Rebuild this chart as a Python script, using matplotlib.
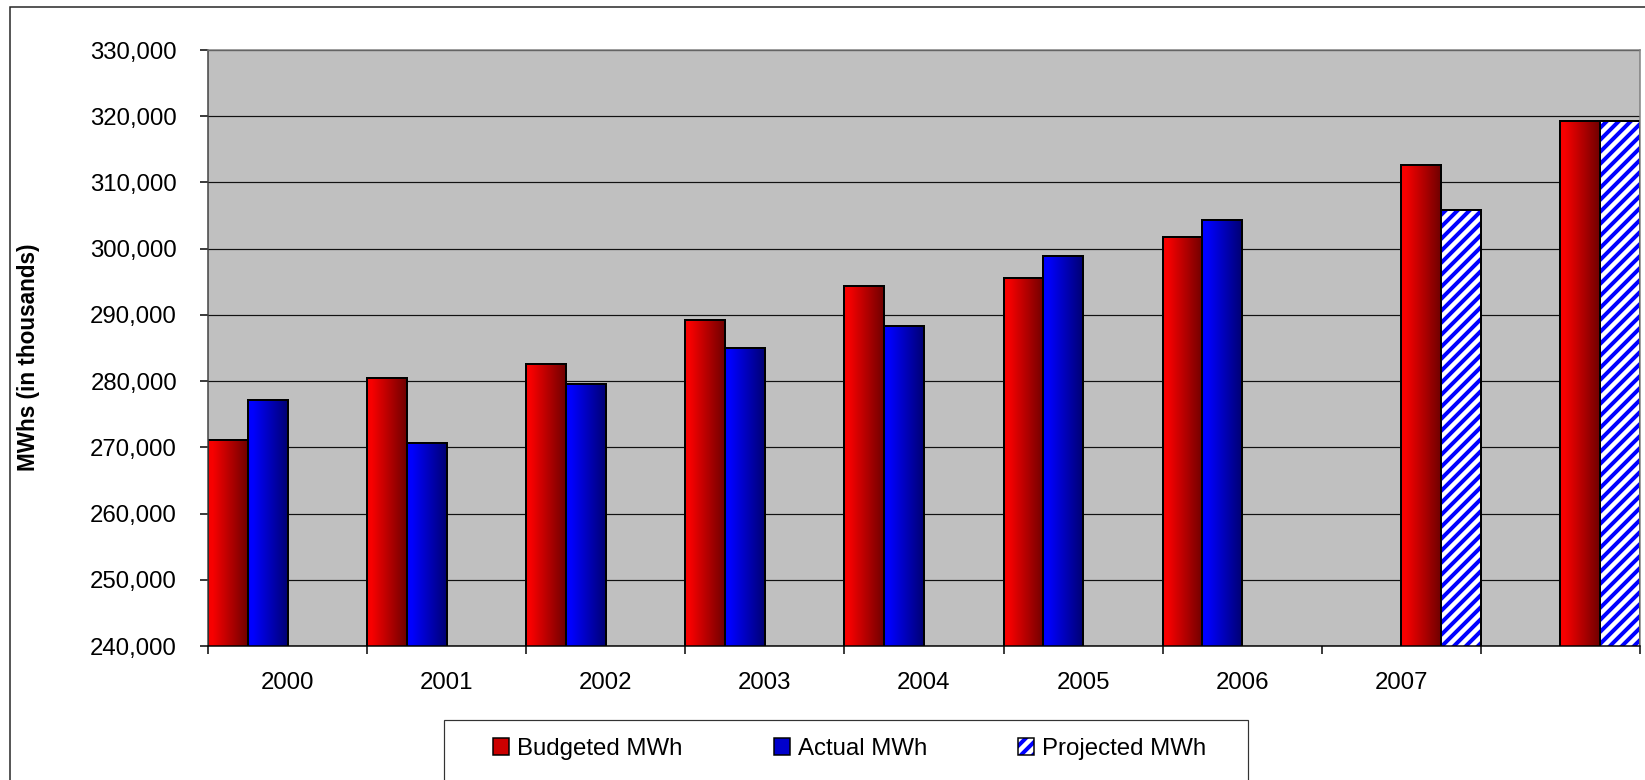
import numpy as np
import matplotlib
matplotlib.use("Agg")
import matplotlib.pyplot as plt
from matplotlib.patches import Patch, Rectangle
from matplotlib.ticker import FuncFormatter, MultipleLocator

nan = np.nan

# Categories (last group is the unlabeled outlook year)
years = ["2000", "2001", "2002", "2003", "2004", "2005", "2006", "2007", ""]

# MWh (in thousands)
budgeted = [271100, 280400, 282600, 289200, 294400, 295500, 301800, nan, nan]
actual = [277200, 270600, 279600, 285000, 288300, 298900, 304300, nan, nan]
budgeted_outlook = [nan] * 7 + [312700, 319300]
projected = [nan] * 7 + [305800, 319300]

series_labels = ["Budgeted MWh", "Actual MWh", "Projected MWh"]

W, H, DPI = 1645, 780, 72
plt.rcParams["font.family"] = ["Liberation Sans", "DejaVu Sans"]
plt.rcParams["hatch.linewidth"] = 4.0

fig = plt.figure(figsize=(W / DPI, H / DPI), dpi=DPI)
fig.patch.set_facecolor("white")
ax = fig.add_axes([208 / W, 1 - 646 / H, (1640 - 208) / W, (646 - 50) / H])
ax.set_facecolor("#C0C0C0")

idx = np.arange(len(years))
bw = 0.25
ax.set_xlim(0, len(years))
ax.set_ylim(240000, 330000)


def gradient(base, dark=0.45, n=256):
    t = np.linspace(0, 1, n)
    f = np.where(t < 0.12, 1.0, 1.0 - (t - 0.12) / 0.88 * (1.0 - dark))
    rgb = np.outer(f, np.array(base))
    return rgb[np.newaxis, :, :]


def shaded_bars(values, slot, base):
    bars = ax.bar(idx + slot * bw, values, width=bw, align="edge",
                  facecolor="none", edgecolor="black", linewidth=2, zorder=2)
    grad = gradient(base)
    ylo = ax.get_ylim()[0]
    for b in bars:
        h = b.get_height()
        if not np.isfinite(h):
            continue
        x, y, w = b.get_x(), b.get_y(), b.get_width()
        ax.imshow(grad, extent=(x, x + w, max(y, ylo), y + h), aspect="auto",
                  origin="lower", interpolation="bilinear", zorder=1)
    return bars


red = (0.97, 0.0, 0.0)
blue = (0.0, 0.0, 1.0)
shaded_bars(budgeted, 0, red)
shaded_bars(actual, 1, blue)
shaded_bars(budgeted_outlook, 2, red)

# Projected: white bars with blue diagonal stripes
ax.bar(idx + 3 * bw, projected, width=bw, align="edge", facecolor="white",
       edgecolor="#0000FF", hatch="//", linewidth=0, zorder=1)
ax.bar(idx + 3 * bw, projected, width=bw, align="edge", facecolor="none",
       edgecolor="black", linewidth=2, zorder=2)

# Axes limits and ticks
ax.set_xlim(0, len(years))
ax.set_ylim(240000, 330000)
ax.yaxis.set_major_locator(MultipleLocator(10000))
ax.yaxis.set_major_formatter(FuncFormatter(lambda v, _: f"{int(round(v)):,}"))
ax.set_xticks(np.arange(len(years) + 1))
ax.set_xticklabels([])
ax.set_xticks(idx + 0.5, labels=years, minor=True)

ax.tick_params(axis="y", length=8, width=1.5, pad=23, labelsize=24, colors="black")
ax.tick_params(axis="x", which="major", length=8, width=1.5, direction="out")
ax.tick_params(axis="x", which="minor", length=0, pad=26, labelsize=24)

ax.grid(axis="y", color="#111111", linewidth=1.2)
ax.set_axisbelow(True)

for side in ("top", "right"):
    ax.spines[side].set_color("#808080")
    ax.spines[side].set_linewidth(1.5)
ax.spines["left"].set_color("#404040")
ax.spines["left"].set_linewidth(1.5)
ax.spines["bottom"].set_color("black")
ax.spines["bottom"].set_linewidth(1.5)

fig.text(29 / W, 1 - 357 / H, "MWhs (in thousands)", rotation=90,
         ha="center", va="center", fontsize=22.5, fontweight="bold")

# Legend
handles = [
    Patch(facecolor="#CC0000", edgecolor="black", linewidth=1.5),
    Patch(facecolor="#0000CC", edgecolor="black", linewidth=1.5),
    (Patch(facecolor="white", edgecolor="#0000FF", hatch="//", linewidth=0),
     Patch(facecolor="none", edgecolor="black", linewidth=1.5)),
]
fig.legend(handles, series_labels, ncol=3, loc="center left",
           bbox_to_anchor=(493 / W, 1 - 749 / H), frameon=False, fontsize=24,
           handlelength=16 / 24, handleheight=16 / 24, handletextpad=8 / 24,
           columnspacing=3.8, borderpad=0, borderaxespad=0)

# Frames around the chart area and the legend
fig.add_artist(Rectangle((10 / W, -0.05), 1.1, 1 - 7 / H + 0.05,
                         transform=fig.transFigure, fill=False,
                         edgecolor="#222222", linewidth=1.5))
fig.add_artist(Rectangle((444 / W, -0.05), (1248 - 444) / W, 1 - 720 / H + 0.05,
                         transform=fig.transFigure, fill=False,
                         edgecolor="#333333", linewidth=1.2))

fig.savefig("out.png", dpi=DPI)
